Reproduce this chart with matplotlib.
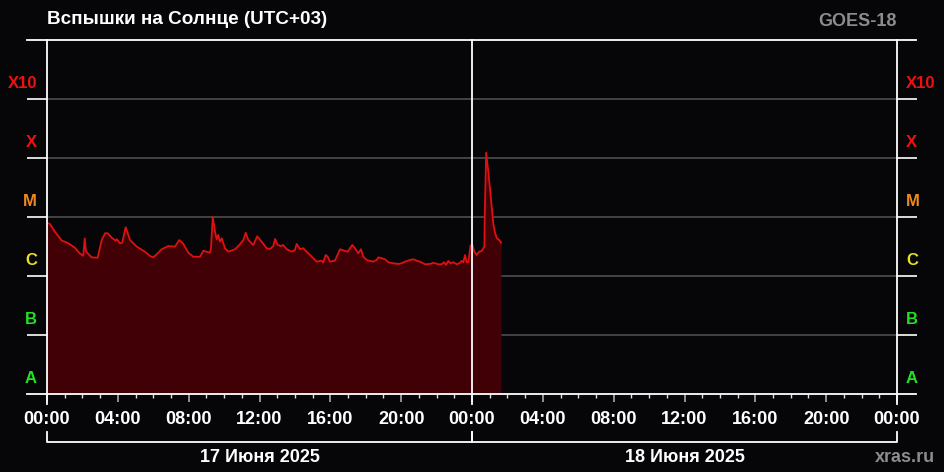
import matplotlib
matplotlib.use("Agg")
import matplotlib.pyplot as plt

plt.rcParams['font.family'] = ['Liberation Sans', 'DejaVu Sans']
plt.rcParams['font.weight'] = 'bold'

# ---- data: hours since 17 June 00:00 (UTC+03), X-ray flux in 1e-6 W/m^2 ----
hours = [0.00, 0.17, 0.45, 0.83, 1.20, 1.58, 1.86, 2.05, 2.13, 2.20, 2.52, 2.86,
         3.09, 3.28, 3.43, 3.65, 3.88, 3.94, 4.12, 4.25, 4.44, 4.69, 5.07, 5.53,
         5.82, 6.00, 6.19, 6.48, 6.85, 7.23, 7.47, 7.70, 7.98, 8.26, 8.64, 8.83,
         9.02, 9.20, 9.26, 9.36, 9.49, 9.58, 9.67, 9.77, 9.87, 10.05, 10.24, 10.62,
         10.86, 11.09, 11.22, 11.37, 11.65, 11.87, 12.12, 12.41, 12.59, 12.78, 12.88,
         13.03, 13.21, 13.34, 13.54, 13.82, 14.00, 14.10, 14.29, 14.47, 14.76, 15.04,
         15.23, 15.51, 15.60, 15.74, 15.85, 15.98, 16.26, 16.55, 16.79, 16.98, 17.11,
         17.24, 17.39, 17.58, 17.73, 17.86, 18.05, 18.24, 18.43, 18.62, 18.71, 18.90,
         19.09, 19.27, 19.56, 19.84, 20.03, 20.22, 20.50, 20.69, 20.88, 21.06, 21.35,
         21.63, 21.82, 22.10, 22.29, 22.42, 22.53, 22.66, 22.80, 22.94, 23.14, 23.28,
         23.42, 23.51, 23.61, 23.70, 23.79, 23.92, 24.02, 24.13, 24.26, 24.40, 24.55,
         24.64, 24.70, 24.72, 24.80, 24.93, 25.06, 25.20, 25.30, 25.40, 25.54, 25.64]
flux_micro = [8.0, 7.6, 5.6, 4.0, 3.6, 3.0, 2.4, 2.2, 4.35, 2.6, 2.07, 2.04,
              4.07, 5.3, 5.3, 4.46, 3.97, 4.19, 3.58, 3.67, 6.7, 4.07, 3.14, 2.58,
              2.18, 2.07, 2.33, 2.84, 3.22, 3.14, 4.07, 3.49, 2.48, 2.12, 2.12, 2.68,
              2.58, 2.48, 2.95, 10.0, 5.6, 4.19, 4.95, 3.81, 4.35, 2.95, 2.58, 2.84,
              3.35, 4.07, 5.42, 4.07, 3.35, 4.7, 3.81, 2.95, 2.87, 3.22, 4.24,
              3.35, 3.22, 3.35, 2.84, 2.58, 2.76, 3.49, 2.84, 2.95, 2.42, 2.0,
              1.75, 1.82, 1.68, 2.27, 2.12, 1.75, 1.82, 2.84, 2.68, 2.58, 2.95,
              3.35, 2.95, 2.42, 2.84, 2.12, 1.87, 1.80, 1.75, 1.87, 2.07, 2.0,
              1.92, 1.71, 1.64, 1.60, 1.64, 1.75, 1.87, 1.92, 1.82, 1.75, 1.58,
              1.60, 1.68, 1.58, 1.58, 1.71, 1.54, 1.80, 1.64, 1.71, 1.58, 1.64,
              1.80, 1.71, 2.27, 1.71, 1.71, 3.3, 3.35, 2.58, 2.27, 2.58, 2.65,
              2.95, 3.14, 10.5, 123.0, 55.0, 22.0, 7.8, 5.4, 4.4, 4.07, 3.67]
flux = [v * 1e-6 for v in flux_micro]

class_labels = ['A', 'B', 'C', 'M', 'X', 'X10']
class_levels = [1e-8, 1e-7, 1e-6, 1e-5, 1e-4, 1e-3]
class_colors = ['#22e022', '#22e022', '#e8e020', '#f08a20', '#ee1111', '#ee1111']
tick_hours = [0, 4, 8, 12, 16, 20, 24, 28, 32, 36, 40, 44, 48]
tick_labels = ['00:00', '04:00', '08:00', '12:00', '16:00', '20:00', '00:00',
               '04:00', '08:00', '12:00', '16:00', '20:00', '00:00']
day_labels = ['17 Июня 2025', '18 Июня 2025']
title = 'Вспышки на Солнце (UTC+03)'
satellite = 'GOES-18'
credit = 'xras.ru'

W, H = 944, 472
BG = '#060608'
fig = plt.figure(figsize=(W / 100, H / 100), dpi=100, facecolor=BG)
ax = fig.add_axes([47 / W, (H - 394) / H, 850 / W, 354 / H])
ax.set_facecolor(BG)
ax.set_yscale('log')
ax.set_xlim(0, 48)
ax.set_ylim(1e-8, 1e-2)
for s in ax.spines.values():
    s.set_visible(False)

px_x = 1.0 / 850  # one pixel in axes fraction (x)
px_y = 1.0 / 354  # one pixel in axes fraction (y)

# data
ax.fill_between(hours, flux, 1e-8, color='#400005', linewidth=0, zorder=2)
ax.plot(hours, flux, color='#e01010', lw=1.3, zorder=3)

# horizontal grid with outside extensions (as ticks)
ax.set_yticks([1e-7, 1e-6, 1e-5, 1e-4, 1e-3])
ax.yaxis.set_minor_locator(matplotlib.ticker.NullLocator())
ax.set_yticklabels([])
ax.grid(axis='y', color='#4e4e4e', lw=1.2, zorder=1)
ax.tick_params(axis='y', which='major', length=14.4, width=1.2, color='white',
               left=True, right=True, direction='out')
for t in ax.yaxis.get_major_ticks():
    t.tick2line.set_color('#5a5a5a')

# x ticks
ax.set_xticks(tick_hours)
ax.set_xticklabels(tick_labels, color='white', fontsize=13, fontweight='bold')
ax.set_xticks(range(0, 49), minor=True)
ax.tick_params(axis='x', which='major', length=6, width=1.2, color='#aaaaaa', pad=6)
ax.tick_params(axis='x', which='minor', length=3, width=1.0, color='#dddddd')

xt = ax.get_xaxis_transform()
yt = ax.get_yaxis_transform()
# top & bottom frame lines extended outside
for yy in (0, 1):
    ax.plot([-20 * px_x, 1 + 19 * px_x], [yy, yy], transform=ax.transAxes,
            color='white', lw=1.3, clip_on=False, zorder=5)
# vertical day boundaries
for hx in (0, 24, 48):
    ax.plot([hx, hx], [1, -10 * px_y], transform=xt, color='white', lw=1.3,
            clip_on=False, zorder=5)

# date brackets
yb = -(442 - 394) * px_y
ye = -(432 - 394) * px_y
for i, lab in enumerate(day_labels):
    a, b = 24 * i, 24 * (i + 1)
    ax.plot([a, a, b, b], [ye, yb, yb, ye], transform=xt, color='white', lw=1.3,
            clip_on=False)
    ax.text((a + b) / 2, -(457 - 394) * px_y, lab, transform=xt, ha='center',
            va='center', color='white', fontsize=13, fontweight='bold')

# class labels both sides
for lab, lev, col in zip(class_labels, class_levels, class_colors):
    ax.text(-10 * px_x, lev * 1.85, lab, transform=yt, ha='right', va='center',
            color=col, fontsize=12, fontweight='bold')
    ax.text(1 + 9 * px_x, lev * 1.85, lab, transform=yt, ha='left', va='center',
            color=col, fontsize=12, fontweight='bold')

fig.text(47 / W, 1 - 19 / H, title, ha='left', va='center', color='white',
         fontsize=13.6, fontweight='bold')
fig.text(897 / W, 1 - 22 / H, satellite, ha='right', va='center', color='#8c8c8c',
         fontsize=13, fontweight='bold')
fig.text(935 / W, 1 - 457 / H, credit, ha='right', va='center', color='#8c8c8c',
         fontsize=13, fontweight='bold')

fig.savefig('out.png', dpi=100, facecolor=BG)
